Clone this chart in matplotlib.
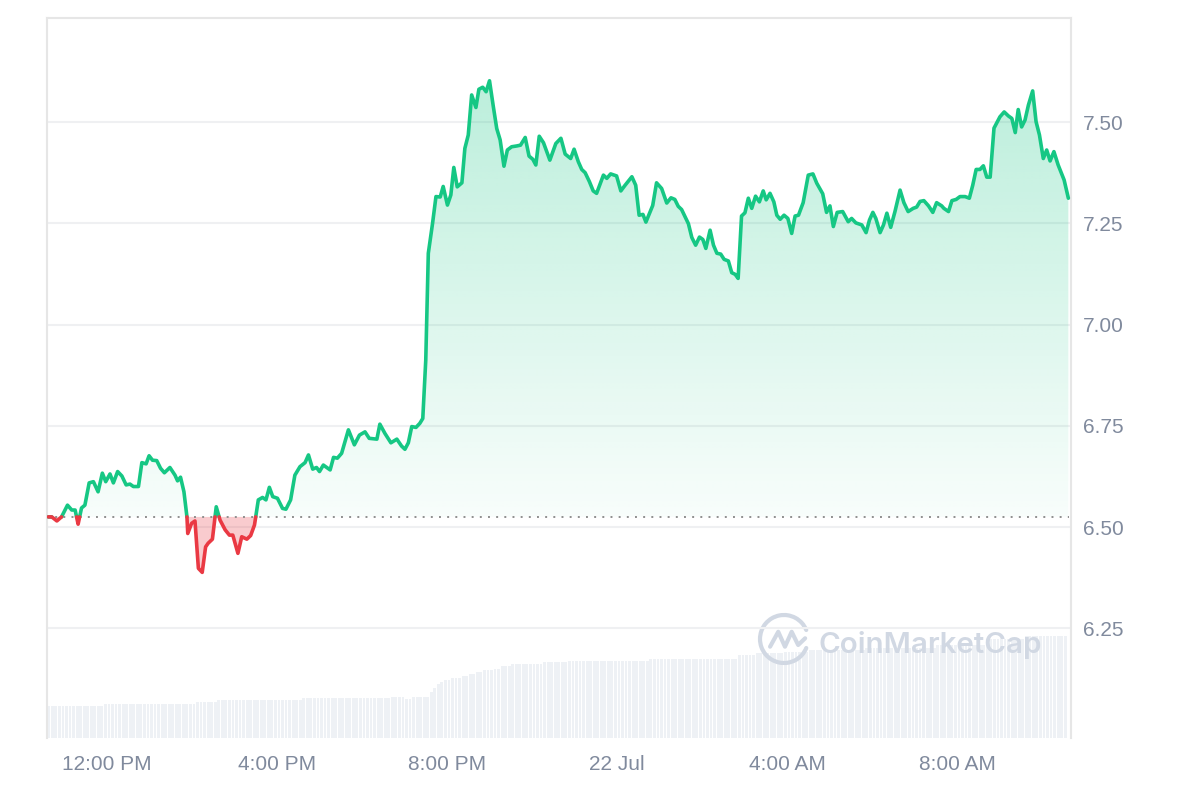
import numpy as np
import matplotlib
matplotlib.use("Agg")
import matplotlib.pyplot as plt
from matplotlib.patches import PathPatch, Arc
from matplotlib.path import Path
from matplotlib.colors import to_rgb

# ---------------- data ----------------
# hours relative to 12:00 PM (21 Jul)
hours = [-1.38, -1.30, -1.18, -1.07, -0.93, -0.83, -0.75, -0.68, -0.60, -0.52, -0.42, -0.32, -0.21, -0.11, -0.03,
         0.07, 0.15, 0.25, 0.35, 0.45, 0.54, 0.62, 0.74, 0.82, 0.92, 0.99, 1.07, 1.17, 1.26, 1.35, 1.48, 1.60, 1.66,
         1.73, 1.81, 1.88, 1.90, 1.99, 2.07, 2.15, 2.24, 2.32, 2.38, 2.48, 2.57, 2.66, 2.78, 2.88, 2.96, 3.08, 3.17,
         3.29, 3.38, 3.47, 3.56, 3.66, 3.74, 3.82, 3.90, 4.01, 4.13, 4.21, 4.32, 4.42, 4.54, 4.66, 4.74, 4.84, 4.93,
         5.00, 5.09, 5.25, 5.33, 5.42, 5.52, 5.68, 5.82, 5.94, 6.07, 6.17, 6.35, 6.42, 6.54, 6.68, 6.82, 6.93, 7.01,
         7.09, 7.17, 7.27, 7.36, 7.43, 7.46, 7.50, 7.56, 7.66, 7.74, 7.84, 7.91, 8.01, 8.09, 8.16, 8.24, 8.35, 8.42,
         8.50, 8.58, 8.68, 8.75, 8.84, 8.92, 9.00, 9.09, 9.17, 9.25, 9.34, 9.42, 9.52, 9.64, 9.73, 9.84, 9.93, 10.02,
         10.09, 10.17, 10.27, 10.42, 10.56, 10.68, 10.78, 10.91, 10.99, 11.09, 11.17, 11.25, 11.35, 11.44, 11.52,
         11.68, 11.76, 11.85, 11.99, 12.09, 12.19, 12.35, 12.44, 12.52, 12.61, 12.68, 12.84, 12.93, 13.05, 13.17,
         13.27, 13.36, 13.44, 13.52, 13.68, 13.76, 13.85, 13.94, 14.02, 14.09, 14.19, 14.27, 14.35, 14.44, 14.52,
         14.62, 14.70, 14.78, 14.85, 14.93, 15.01, 15.09, 15.17, 15.26, 15.35, 15.44, 15.51, 15.60, 15.69, 15.76,
         15.84, 15.93, 16.02, 16.11, 16.19, 16.27, 16.38, 16.50, 16.61, 16.70, 16.84, 16.93, 17.01, 17.09, 17.18,
         17.31, 17.44, 17.52, 17.62, 17.76, 17.86, 17.94, 18.02, 18.09, 18.19, 18.27, 18.35, 18.44, 18.54, 18.66,
         18.75, 18.85, 18.97, 19.05, 19.13, 19.22, 19.33, 19.43, 19.52, 19.64, 19.69, 19.80, 19.88, 19.98, 20.07,
         20.19, 20.29, 20.37, 20.45, 20.54, 20.62, 20.70, 20.78, 20.87, 21.01, 21.11, 21.21, 21.29, 21.37, 21.44,
         21.52, 21.60, 21.68, 21.78, 21.86, 21.94, 22.03, 22.11, 22.19, 22.28, 22.38, 22.52, 22.62]

prices = [6.525, 6.525, 6.515, 6.525, 6.554, 6.542, 6.542, 6.507, 6.547, 6.554, 6.609, 6.612, 6.587, 6.633, 6.612,
          6.631, 6.609, 6.637, 6.626, 6.604, 6.606, 6.600, 6.600, 6.659, 6.656, 6.676, 6.665, 6.664, 6.645, 6.634,
          6.647, 6.628, 6.614, 6.623, 6.587, 6.527, 6.484, 6.509, 6.515, 6.398, 6.388, 6.451, 6.460, 6.470, 6.550,
          6.517, 6.493, 6.480, 6.480, 6.435, 6.476, 6.470, 6.479, 6.505, 6.567, 6.573, 6.567, 6.598, 6.575, 6.571,
          6.546, 6.544, 6.567, 6.628, 6.649, 6.659, 6.678, 6.643, 6.647, 6.637, 6.653, 6.641, 6.672, 6.670, 6.682,
          6.740, 6.703, 6.727, 6.735, 6.719, 6.717, 6.754, 6.731, 6.708, 6.717, 6.700, 6.692, 6.708, 6.748, 6.746,
          6.756, 6.768, 6.830, 6.912, 7.176, 7.250, 7.316, 7.315, 7.341, 7.295, 7.320, 7.388, 7.340, 7.350, 7.435,
          7.468, 7.567, 7.536, 7.581, 7.586, 7.575, 7.602, 7.538, 7.484, 7.456, 7.391, 7.431, 7.439, 7.441, 7.443,
          7.462, 7.416, 7.408, 7.394, 7.465, 7.449, 7.406, 7.447, 7.460, 7.421, 7.410, 7.433, 7.402, 7.383, 7.375,
          7.353, 7.330, 7.324, 7.369, 7.361, 7.372, 7.367, 7.330, 7.344, 7.365, 7.344, 7.270, 7.272, 7.253, 7.294,
          7.350, 7.336, 7.300, 7.313, 7.309, 7.292, 7.284, 7.249, 7.215, 7.196, 7.216, 7.210, 7.188, 7.233, 7.196,
          7.176, 7.174, 7.161, 7.157, 7.128, 7.124, 7.114, 7.268, 7.276, 7.312, 7.287, 7.317, 7.303, 7.330, 7.308,
          7.324, 7.303, 7.270, 7.260, 7.270, 7.262, 7.225, 7.268, 7.270, 7.301, 7.369, 7.372, 7.349, 7.323, 7.277,
          7.293, 7.242, 7.277, 7.279, 7.254, 7.262, 7.251, 7.246, 7.227, 7.258, 7.277, 7.262, 7.227, 7.246, 7.275,
          7.240, 7.279, 7.332, 7.301, 7.279, 7.287, 7.290, 7.304, 7.306, 7.293, 7.277, 7.301, 7.293, 7.287, 7.279,
          7.306, 7.309, 7.316, 7.316, 7.312, 7.344, 7.383, 7.383, 7.392, 7.364, 7.364, 7.485, 7.513, 7.525, 7.515,
          7.509, 7.474, 7.531, 7.488, 7.505, 7.542, 7.577, 7.501, 7.468, 7.410, 7.431, 7.404, 7.427, 7.394, 7.357,
          7.312]

open_price = 6.525

# volume (5-minute bars), given as level / number of consecutive bars
vol_levels = [3.2, 3.37, 3.57, 3.8, 3.97, 4.13, 3.93, 4.13, 4.57, 4.97, 5.37, 5.57, 5.77, 5.97, 6.17, 6.37,
              6.57, 6.77, 6.93, 7.17, 7.37, 7.57, 7.75, 7.93, 8.3, 8.47, 8.63, 8.8, 9.0, 9.3, 9.9, 10.2]
vol_counts = [16, 26, 6, 24, 25, 4, 2, 5, 1, 1, 1, 1, 2, 3, 2, 2,
              2, 3, 2, 3, 9, 7, 23, 25, 5, 8, 7, 16, 20, 14, 11, 12]
vol_start_hour = -1.37
vol_step_hours = 5 / 60

tick_hours = [0, 4, 8, 12, 16, 20]
tick_labels = ["12:00 PM", "4:00 PM", "8:00 PM", "22 Jul", "4:00 AM", "8:00 AM"]
ytick_values = [6.25, 6.50, 6.75, 7.00, 7.25, 7.50]

# ---------------- style ----------------
GREEN = "#16c784"
RED = "#ea3943"
LABEL = "#808a9d"
GRID = "#eff0f2"
FRAME = "#e6e6e6"
VOLC = "#eef1f5"

plt.rcParams["font.family"] = ["Liberation Sans", "DejaVu Sans"]

fig = plt.figure(figsize=(12, 8), dpi=100)
fig.patch.set_facecolor("white")

W, H = 1200, 800
ax = fig.add_axes([47 / W, 62 / H, 1024 / W, 720 / H])
ax2 = ax.twinx()
ax.set_zorder(ax2.get_zorder() + 1)
ax.patch.set_visible(False)

t = np.array(hours, dtype=float)
p = np.array(prices, dtype=float)
assert len(t) == len(p)

# volume bars
vol = np.repeat(vol_levels, vol_counts)
vol_t = vol_start_hour + np.arange(len(vol)) * vol_step_hours
ax2.bar(vol_t, vol, width=vol_step_hours * 0.8, color=VOLC, linewidth=0, align="center")
ax2.set_ylim(0, 72)
ax2.set_yticks([])
for s in ax2.spines.values():
    s.set_visible(False)

# insert baseline crossings
tt = [t[0]]
pp = [p[0]]
for i in range(1, len(t)):
    a, b = p[i - 1] - open_price, p[i] - open_price
    if a * b < 0:
        f = a / (a - b)
        tt.append(t[i - 1] + f * (t[i] - t[i - 1]))
        pp.append(open_price)
    tt.append(t[i])
    pp.append(p[i])
tt = np.array(tt)
pp = np.array(pp)

# green gradient fill above opening price
poly = ax.fill_between(tt, pp, open_price, where=pp >= open_price, interpolate=True,
                       facecolor="none", edgecolor="none")
clip = Path.make_compound_path(*poly.get_paths())
patch = PathPatch(clip, transform=ax.transData, facecolor="none", edgecolor="none")
ax.add_patch(patch)
ymax = pp.max()
n = 256
alpha = np.linspace(0.03, 0.29, n)
img = np.zeros((n, 2, 4))
img[..., :3] = to_rgb(GREEN)
img[..., 3] = alpha[:, None]
im = ax.imshow(img, extent=[tt.min(), tt.max(), open_price, ymax], origin="lower",
               aspect="auto", zorder=1, interpolation="bilinear")
im.set_clip_path(patch)

# red fill below opening price
ax.fill_between(tt, pp, open_price, where=pp <= open_price, interpolate=True,
                facecolor=RED, alpha=0.26, linewidth=0, zorder=1)

# lines
green_line = np.ma.masked_where(pp < open_price, pp)
red_line = np.ma.masked_where(pp > open_price, pp)
ax.plot(tt, green_line, color=GREEN, lw=2.6, solid_joinstyle="round", solid_capstyle="round", zorder=3)
ax.plot(tt, red_line, color=RED, lw=2.6, solid_joinstyle="round", solid_capstyle="round", zorder=3)

# opening price dotted line
ax.axhline(open_price, color="#8f8f8f", lw=1.4, linestyle=(0, (1, 3.2)), zorder=2,
           xmax=0.998)

# axes limits
ax.set_xlim(-1.412, 22.682)
ax.set_ylim(5.979, 7.757)

# grid
ax.set_yticks(ytick_values)
ax.set_yticklabels([f"{v:.2f}" for v in ytick_values])
ax.yaxis.grid(True, color=GRID, lw=1.5, zorder=0)
ax.set_axisbelow(True)
ax.yaxis.tick_right()
ax.tick_params(axis="y", length=0, pad=8.6, labelsize=15, labelcolor=LABEL)
ax.set_xticks(tick_hours)
ax.set_xticklabels(tick_labels)
ax.tick_params(axis="x", length=0, pad=12, labelsize=15, labelcolor=LABEL)

for side in ["left", "top", "right"]:
    ax.spines[side].set_color(FRAME)
    ax.spines[side].set_linewidth(1.5)
ax.spines["bottom"].set_visible(False)

# watermark
WM = "#d1d8e3"
lax = fig.add_axes([757 / W, (800 - 666) / H, 54 / W, 54 / H])
lax.set_xlim(-1.125, 1.125)
lax.set_ylim(-1.125, 1.125)
lax.axis("off")
lax.add_patch(Arc((0, 0), 2, 2, theta1=22, theta2=338, lw=3.0, color=WM, capstyle="round"))
mx = [-0.58, -0.24, 0.04, 0.32, 0.59, 0.88]
my = [-0.32, 0.30, -0.32, 0.30, -0.25, 0.03]
lax.plot(mx, my, color=WM, lw=3.0, solid_joinstyle="round", solid_capstyle="round")
fig.text(819 / W, (800 - 653.3) / H, "CoinMarketCap", fontsize=21.3, color=WM,
         family=["Inter", "DejaVu Sans"], fontweight="semibold", ha="left", va="baseline")

fig.savefig("out.png", dpi=100, facecolor="white")
